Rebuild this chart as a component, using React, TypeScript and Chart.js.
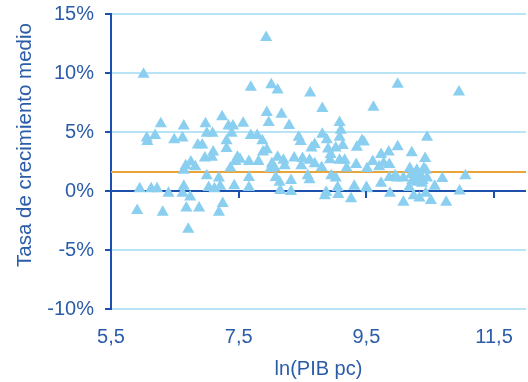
import React, { useEffect, useRef } from "react";
import { Chart, registerables } from "chart.js";

Chart.register(...registerables);

// ln(PIB pc) vs tasa de crecimiento medio (%)
const lnPib: number[] = [
  6.01, 6.28, 6.64, 6.98, 7.24, 7.34, 7.41, 6.06, 6.07, 6.19, 6.49, 6.62, 7.0, 7.09, 7.39, 6.86, 6.93, 7.31, 7.31, 7.1,
  6.97, 7.08, 6.75, 6.67, 6.82, 6.64, 7.48, 7.45, 7.37, 7.0, 7.19, 5.95, 6.13, 6.22, 6.4, 6.64, 6.62, 6.74, 7.03, 7.12,
  7.21, 7.43, 5.91, 6.31, 6.68, 6.88, 7.25, 7.19, 6.71,
  7.93, 7.69, 8.01, 8.11, 8.62, 8.81, 7.57, 7.94, 7.97, 8.17, 8.29, 7.69, 7.79, 7.87, 8.44, 8.47, 8.81, 8.88, 9.08, 9.1,
  9.08, 9.43, 9.35, 8.69, 8.64, 7.94, 7.88, 8.9, 9.02, 9.13, 8.94, 8.93, 7.52, 7.66, 7.81, 8.11, 8.2, 8.37, 8.5, 8.61,
  8.69, 8.02, 8.06, 8.22, 8.48, 8.8, 9.08, 9.16, 9.19, 9.34, 9.51, 8.0, 7.66, 8.08, 8.58, 8.61, 8.95, 9.02, 8.14, 8.32,
  7.66, 8.15, 8.32, 8.87, 8.85, 9.06, 9.05, 9.31, 9.26, 9.5,
  9.99, 10.95, 9.61, 10.45, 9.46, 9.99, 10.21, 9.73, 9.85, 9.6, 10.42, 9.7, 9.77, 9.86, 10.18, 10.29, 10.43, 11.05,
  10.69, 9.86, 9.95, 9.98, 10.08, 10.27, 10.35, 10.45, 10.29, 10.37, 10.57, 10.17, 9.73, 10.96, 9.87, 10.24, 10.43,
  10.33, 10.51, 10.08, 10.75, 9.51, 10.2, 10.3, 10.38, 10.22, 10.4,
];

const crecimiento: number[] = [
  9.9, 5.7, 5.5, 5.7, 6.3, 5.5, 5.5, 4.5, 4.2, 4.7, 4.35, 4.5, 4.9, 4.9, 4.9, 3.9, 3.9, 4.25, 3.6, 3.3,
  2.8, 2.85, 2.45, 2.15, 2.05, 1.75, 2.85, 2.5, 1.95, 1.3, 1.1, 0.2, 0.2, 0.2, -0.2, 0.4, -0.2, -0.5, 0.3, 0.2,
  0.4, 0.45, -1.65, -1.8, -1.45, -1.45, -1.05, -1.8, -3.25,
  13.0, 8.8, 9.0, 8.55, 8.3, 7.0, 5.75, 6.65, 5.8, 6.5, 5.55, 4.7, 4.7, 4.25, 4.55, 4.2, 4.8, 4.35, 5.8, 5.15,
  4.55, 4.25, 3.7, 3.95, 3.65, 3.5, 3.3, 3.55, 3.65, 3.85, 3.1, 2.65, 2.7, 2.5, 2.5, 2.85, 2.6, 2.8, 2.75, 2.6,
  2.3, 2.3, 2.0, 2.15, 2.15, 2.0, 2.6, 2.6, 1.95, 2.25, 1.9, 1.9, 1.15, 1.15, 1.3, 0.95, 1.3, 1.1, 0.75, 0.9,
  0.3, 0.05, -0.05, -0.1, -0.4, -0.3, 0.3, 0.4, -0.65, 0.3,
  9.05, 8.4, 7.1, 4.55, 4.15, 3.75, 3.25, 3.1, 3.3, 2.5, 2.75, 2.05, 2.35, 2.25, 1.9, 1.75, 1.75, 1.3,
  1.05, 1.15, 1.3, 1.1, 1.1, 1.1, 1.3, 1.1, 0.75, 0.65, 0.4, 0.3, 0.65, 0.0, -0.2, -0.4, -0.2,
  -0.6, -0.8, -0.95, -0.95, 0.2, 1.4, 1.5, 0.9, 0.9, 1.9,
];

const mediaCrecimiento = 1.62;
const xTicks: number[] = [5.5, 7.5, 9.5, 11.5];
const xMin = 5.5;
const xMax = 12;
const yMin = -10;
const yMax = 15;
const yStep = 5;

const xTitle = "ln(PIB pc)";
const yTitle = "Tasa de crecimiento medio";

const AXIS_BLUE = "#1d50ad";
const TEXT_BLUE = "#2a5ca8";
const GRID_BLUE = "#b9e4f6";
const MARKER = "#8acfef";
const ORANGE = "#e8a53a";
const FONT = "'Liberation Sans', Arial, sans-serif";

const extras = {
  id: "extras",
  afterDatasetsDraw(chart: any) {
    const { ctx } = chart;
    const xs = chart.scales.x;
    const ys = chart.scales.y;
    const y0 = ys.getPixelForValue(0);
    ctx.save();
    ctx.strokeStyle = AXIS_BLUE;
    ctx.lineWidth = 2;
    xTicks.slice(1).forEach((v) => {
      const px = Math.round(xs.getPixelForValue(v));
      ctx.beginPath();
      ctx.moveTo(px, y0);
      ctx.lineTo(px, y0 + 7);
      ctx.stroke();
    });
    ctx.restore();
  },
  afterDraw(chart: any) {
    const { ctx } = chart;
    ctx.save();
    ctx.translate(25, 145);
    ctx.rotate(-Math.PI / 2);
    ctx.fillStyle = TEXT_BLUE;
    ctx.font = `20.5px ${FONT}`;
    ctx.textAlign = "center";
    ctx.textBaseline = "middle";
    ctx.fillText(yTitle, 0, 0);
    ctx.restore();
  },
};

export default function App() {
  const ref = useRef<HTMLCanvasElement | null>(null);

  useEffect(() => {
    if (!ref.current) return;
    const points = lnPib.map((x, i) => ({ x, y: crecimiento[i] }));
    const chart = new Chart(ref.current, {
      type: "scatter",
      data: {
        datasets: [
          {
            type: "scatter",
            data: points,
            pointStyle: "triangle",
            pointRadius: 7,
            pointHoverRadius: 7,
            backgroundColor: MARKER,
            borderColor: MARKER,
            borderWidth: 0,
            order: 1,
          },
          {
            type: "line",
            data: [
              { x: xMin, y: mediaCrecimiento },
              { x: xMax, y: mediaCrecimiento },
            ],
            borderColor: ORANGE,
            borderWidth: 2,
            pointRadius: 0,
            order: 2,
          } as any,
        ],
      },
      options: {
        responsive: false,
        animation: false,
        layout: { autoPadding: false, padding: { left: 0, right: 2, top: 14, bottom: 0 } },
        plugins: { legend: { display: false }, tooltip: { enabled: false } },
        scales: {
          x: {
            type: "linear",
            min: xMin,
            max: xMax,
            afterBuildTicks: (scale: any) => {
              scale.ticks = xTicks.map((value) => ({ value }));
            },
            afterFit: (scale: any) => {
              scale.height = 73;
              scale.paddingLeft = 0;
              scale.paddingRight = 0;
            },
            grid: { display: false, drawTicks: false },
            border: { display: false },
            ticks: {
              color: TEXT_BLUE,
              font: { family: FONT, size: 20 },
              padding: 16,
              maxRotation: 0,
              callback: (v: any) => Number(v).toFixed(1).replace(".", ","),
            },
            title: {
              display: true,
              text: xTitle,
              color: TEXT_BLUE,
              font: { family: FONT, size: 20 },
              padding: { top: 0, bottom: 1 },
            },
          },
          y: {
            type: "linear",
            min: yMin,
            max: yMax,
            afterFit: (scale: any) => {
              scale.width = 111;
              scale.paddingTop = 0;
              scale.paddingBottom = 0;
            },
            ticks: {
              stepSize: yStep,
              color: TEXT_BLUE,
              font: { family: FONT, size: 20 },
              padding: 11,
              callback: (v: any) => `${v}%`,
            },
            grid: {
              color: (c: any) => (c.tick && c.tick.value === 0 ? AXIS_BLUE : GRID_BLUE),
              lineWidth: 2,
              tickColor: AXIS_BLUE,
              tickLength: 6,
            },
            border: { display: true, color: AXIS_BLUE, width: 2 },
          },
        },
      },
      plugins: [extras],
    });
    return () => chart.destroy();
  }, []);

  return (
    <div style={{ position: "absolute", left: 0, top: 0, width: 528, height: 382, background: "#fff" }}>
      <canvas ref={ref} width={528} height={382} style={{ display: "block" }} />
    </div>
  );
}
